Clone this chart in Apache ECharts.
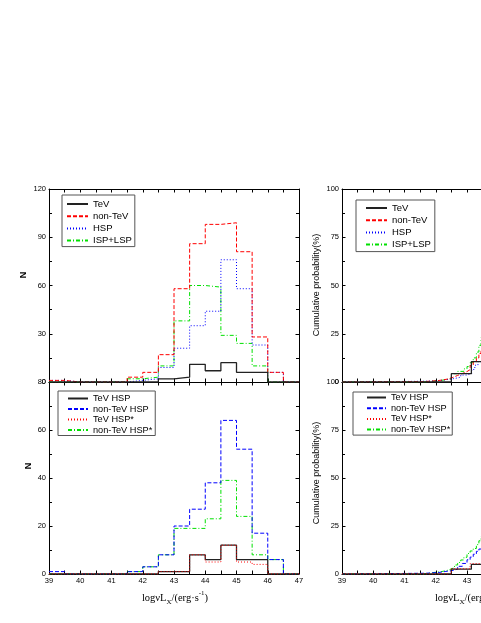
<!DOCTYPE html>
<html>
<head>
<meta charset="utf-8">
<script src="https://cdn.jsdelivr.net/npm/echarts@6/dist/echarts.min.js"></script>
<style>
  html, body { margin: 0; padding: 0; background: #fff; }
  #main { width: 481px; height: 623px; }
</style>
</head>
<body>
<div id="main"></div>
<script>
  // left edges of the 0.5-wide bins, 39 ... 46.5
  var binEdges = [39, 39.5, 40, 40.5, 41, 41.5, 42, 42.5, 43, 43.5, 44, 44.5, 45, 45.5, 46, 46.5];

  // upper histogram
  var histTeV     = [0, 0, 0, 0, 0, 0, 0, 2, 3, 11, 7, 12, 6, 6, 0, 0];
  var histNonTeV  = [1, 0, 0, 0, 0, 3, 6, 17, 58, 86, 98, 99, 81, 28, 6, 0];
  var histHSP     = [1, 0, 0, 0, 0, 1, 2, 9, 21, 35, 44, 76, 58, 23, 6, 0];
  var histISPLSP  = [0, 0, 0, 0, 0, 2, 3, 10, 38, 60, 59, 29, 24, 10, 0, 0];

  // lower histogram
  var histTeVHSP     = [0, 0, 0, 0, 0, 0, 0, 1, 1, 8, 6, 12, 6, 6, 0, 0];
  var histNonTeVHSP  = [1, 0, 0, 0, 0, 1, 3, 8, 20, 27, 38, 64, 52, 17, 6, 0];
  var histTeVHSPs    = [0, 0, 0, 0, 0, 0, 0, 1, 1, 8, 5, 12, 5, 4, 0, 0];
  var histNonTeVHSPs = [0, 0, 0, 0, 0, 1, 3, 8, 19, 19, 23, 39, 24, 8, 6, 0];

  // cumulative probability (%), upper right (only the part up to ~43.5 is in the picture)
  var cumTeVX    = [39, 42.5, 43.14, 43.6];
  var cumTeVY    = [0, 4.3, 10.6, 10.6];
  var cumNonTeVX = [39, 39.3, 41.6, 41.8, 42.0, 42.2, 42.4, 42.55, 42.7, 42.85, 43.0, 43.1, 43.2, 43.3, 43.38, 43.45, 43.55];
  var cumNonTeVY = [0, 0.2, 0.4, 0.6, 1.0, 1.6, 2.4, 3.4, 4.4, 5.4, 6.4, 8.5, 10.5, 12.5, 14.8, 16.6, 18];
  var cumHSPX    = [39, 39.3, 41.7, 42.1, 42.3, 42.6, 42.8, 43.0, 43.15, 43.25, 43.35, 43.45, 43.55];
  var cumHSPY    = [0, 0.4, 0.7, 1.1, 1.8, 2.5, 3.6, 4.4, 6.5, 8.7, 10.5, 11.4, 12.5];
  var cumISPX    = [39, 41.6, 41.9, 42.2, 42.5, 42.7, 42.9, 43.0, 43.1, 43.2, 43.3, 43.38, 43.45, 43.55];
  var cumISPY    = [0, 0.4, 0.9, 1.7, 4.3, 5.5, 6.8, 8, 10, 12.5, 15.5, 19, 23, 25];

  // cumulative probability (%), lower right
  var cumTeVHSPX     = [39, 42.5, 43.14, 43.6];
  var cumTeVHSPY     = [0, 2.5, 5, 5];
  var cumNonTeVHSPX  = [39, 39.3, 41.7, 42.1, 42.3, 42.5, 42.7, 42.85, 43.0, 43.1, 43.2, 43.3, 43.38, 43.45, 43.55];
  var cumNonTeVHSPY  = [0, 0.4, 0.8, 1.3, 1.7, 2.5, 4, 5.5, 7.4, 8.8, 10.3, 11.8, 13, 14, 15];
  var cumTeVHSPsX    = [39, 42.5, 43.1, 43.6];
  var cumTeVHSPsY    = [0, 2.7, 5.4, 5.4];
  var cumNonTeVHSPsX = [39, 41.6, 41.9, 42.2, 42.4, 42.5, 42.6, 42.7, 42.8, 42.9, 43.0, 43.1, 43.2, 43.3, 43.38, 43.45, 43.55];
  var cumNonTeVHSPsY = [0, 0.7, 1.3, 2, 2.7, 3.3, 4.7, 6, 7.3, 8.7, 10.7, 12, 13.3, 15.3, 17.3, 19.6, 21];

  var SANS = 'Liberation Sans';
  var SERIF = 'Liberation Serif';

  var styles = {
    solid:   { color: '#222', width: 1.3, type: 'solid' },
    redDash: { color: '#ff0000', width: 1, type: [4, 2] },
    redDot:  { color: '#ff0000', width: 1, type: [1, 2] },
    bluDot:  { color: '#0000ff', width: 1, type: [1, 2] },
    bluDash: { color: '#0000ff', width: 1, type: [4, 2] },
    grnDD:   { color: '#00e000', width: 1, type: [4, 2, 1, 2] }
  };

  function histData(vals) {
    var pts = binEdges.map(function (x, i) { return [x, vals[i]]; });
    pts.push([47, vals[vals.length - 1]]);
    return pts;
  }

  function pairData(xs, ys) {
    return xs.map(function (x, i) { return [x, ys[i]]; });
  }

  function line(name, axis, data, st) {
    return {
      name: name, type: 'line', step: 'end', symbol: 'none', showSymbol: false,
      xAxisIndex: axis, yAxisIndex: axis, data: data,
      lineStyle: { color: st.color, width: st.width, type: st.type },
      itemStyle: { color: st.color },
      animation: false, silent: true
    };
  }

  function xAx(g, pos, lab) {
    return {
      type: 'value', gridIndex: g, position: pos, min: 39, max: 47, interval: 1,
      axisLine: { show: true, onZero: false, lineStyle: { color: '#000', width: 1 } },
      axisTick: { show: true, inside: true, length: 3.5, lineStyle: { color: '#000' } },
      minorTick: { show: true, splitNumber: 2, length: 3.5, lineStyle: { color: '#000' } },
      axisLabel: { show: lab, fontSize: 7.5, color: '#000', fontFamily: SANS, margin: 3 },
      splitLine: { show: false }
    };
  }

  function yAx(g, pos, lab, max, step) {
    return {
      type: 'value', gridIndex: g, position: pos, min: 0, max: max, interval: step,
      axisLine: { show: true, onZero: false, lineStyle: { color: '#000', width: 1 } },
      axisTick: { show: true, inside: true, length: 3.5, lineStyle: { color: '#000' } },
      minorTick: { show: true, splitNumber: 2, length: 3, lineStyle: { color: '#000' } },
      axisLabel: { show: lab, fontSize: 7.5, color: '#000', fontFamily: SANS, margin: 3 },
      splitLine: { show: false }
    };
  }

  function legend(names, left, top, pad, gap, iw, font) {
    return {
      data: names, orient: 'vertical', left: left, top: top,
      itemWidth: iw, itemHeight: 8, itemGap: gap, padding: pad,
      borderColor: '#555', borderWidth: 1, selectedMode: false,
      itemStyle: { opacity: 0 },
      textStyle: { fontSize: font, color: '#000', fontFamily: SANS }
    };
  }

  var grids = [
    { left: 49, top: 189, width: 250, height: 193 },   // upper left
    { left: 49, top: 382, width: 250, height: 192 },   // lower left
    { left: 342, top: 189, width: 250, height: 193 },  // upper right
    { left: 342, top: 382, width: 250, height: 192 }   // lower right
  ];
  grids.forEach(function (g) { g.outerBoundsMode = 'none'; g.containLabel = false; });

  // axes: for each grid, [bottom/left with labels, top/right mirror]
  var xAxes = [
    xAx(0, 'bottom', false), xAx(0, 'top', false),
    xAx(1, 'bottom', true),  xAx(1, 'top', false),
    xAx(2, 'bottom', false), xAx(2, 'top', false),
    xAx(3, 'bottom', true),  xAx(3, 'top', false)
  ];
  var yAxes = [
    yAx(0, 'left', true, 120, 30), yAx(0, 'right', false, 120, 30),
    yAx(1, 'left', true, 80, 20),  yAx(1, 'right', false, 80, 20),
    yAx(2, 'left', true, 100, 25), yAx(2, 'right', false, 100, 25),
    yAx(3, 'left', true, 100, 25), yAx(3, 'right', false, 100, 25)
  ];

  var series = [
    line('ISP+LSP', 0, histData(histISPLSP), styles.grnDD),
    line('HSP', 0, histData(histHSP), styles.bluDot),
    line('non-TeV', 0, histData(histNonTeV), styles.redDash),
    line('TeV', 0, histData(histTeV), styles.solid),

    line('non-TeV HSP*', 2, histData(histNonTeVHSPs), styles.grnDD),
    line('non-TeV HSP', 2, histData(histNonTeVHSP), styles.bluDash),
    line('TeV HSP', 2, histData(histTeVHSP), styles.solid),
    line('TeV HSP*', 2, histData(histTeVHSPs), styles.redDot),

    line('ISP+LSP', 4, pairData(cumISPX, cumISPY), styles.grnDD),
    line('HSP', 4, pairData(cumHSPX, cumHSPY), styles.bluDot),
    line('non-TeV', 4, pairData(cumNonTeVX, cumNonTeVY), styles.redDash),
    line('TeV', 4, pairData(cumTeVX, cumTeVY), styles.solid),

    line('non-TeV HSP*', 6, pairData(cumNonTeVHSPsX, cumNonTeVHSPsY), styles.grnDD),
    line('non-TeV HSP', 6, pairData(cumNonTeVHSPX, cumNonTeVHSPY), styles.bluDash),
    line('TeV HSP', 6, pairData(cumTeVHSPX, cumTeVHSPY), styles.solid),
    line('TeV HSP*', 6, pairData(cumTeVHSPsX, cumTeVHSPsY), styles.redDot)
  ];

  var xTitleRich = {
    a: { fontFamily: SERIF, fontSize: 10.5, lineHeight: 16, verticalAlign: 'middle', fill: '#000' },
    b: { fontFamily: SERIF, fontSize: 7, lineHeight: 16, verticalAlign: 'bottom', fill: '#000' },
    c: { fontFamily: SERIF, fontSize: 7, lineHeight: 16, verticalAlign: 'top', fill: '#000' }
  };
  var xTitleText = '{a|logνL}{b|X}{a|/(erg·s}{c|-1}{a|)}';

  function vText(txt, x, y, bold) {
    return {
      type: 'text', x: x, y: y, rotation: Math.PI / 2, silent: true,
      style: { text: txt, fontFamily: SANS, fontSize: 9, fontWeight: bold ? 'bold' : 'normal',
               fill: '#000', align: 'center', verticalAlign: 'middle' }
    };
  }

  var graphics = [
    vText('N', 23.5, 275, true),
    vText('N', 28.5, 466, true),
    vText('Cumulative probability(%)', 317, 285, false),
    vText('Cumulative probability(%)', 317, 473, false),
    { type: 'text', x: 175, y: 598, silent: true,
      style: { text: xTitleText, rich: xTitleRich, align: 'center', verticalAlign: 'middle' } },
    { type: 'text', x: 468, y: 598, silent: true,
      style: { text: xTitleText, rich: xTitleRich, align: 'center', verticalAlign: 'middle' } }
  ];

  var option = {
    backgroundColor: '#fff',
    animation: false,
    grid: grids,
    xAxis: xAxes,
    yAxis: yAxes,
    legend: [
      legend(['TeV', 'non-TeV', 'HSP', 'ISP+LSP'], 62, 195, [4, 3, 1, 4], 2.2, 21, 9.5),
      legend(['TeV HSP', 'non-TeV HSP', 'TeV HSP*', 'non-TeV HSP*'], 58, 391, [3, 3, 1, 9], 1.5, 20, 9.2),
      legend(['TeV', 'non-TeV', 'HSP', 'ISP+LSP'], 356, 200, [3, 4, 2, 9], 2.2, 21, 9.5),
      legend(['TeV HSP', 'non-TeV HSP', 'TeV HSP*', 'non-TeV HSP*'], 353, 392, [1, 2, 1, 13], 1.7, 19, 9.2)
    ],
    graphic: graphics,
    series: series
  };

  var chart = echarts.init(document.getElementById('main'), null, { renderer: 'canvas' });
  chart.setOption(option);
</script>
</body>
</html>
